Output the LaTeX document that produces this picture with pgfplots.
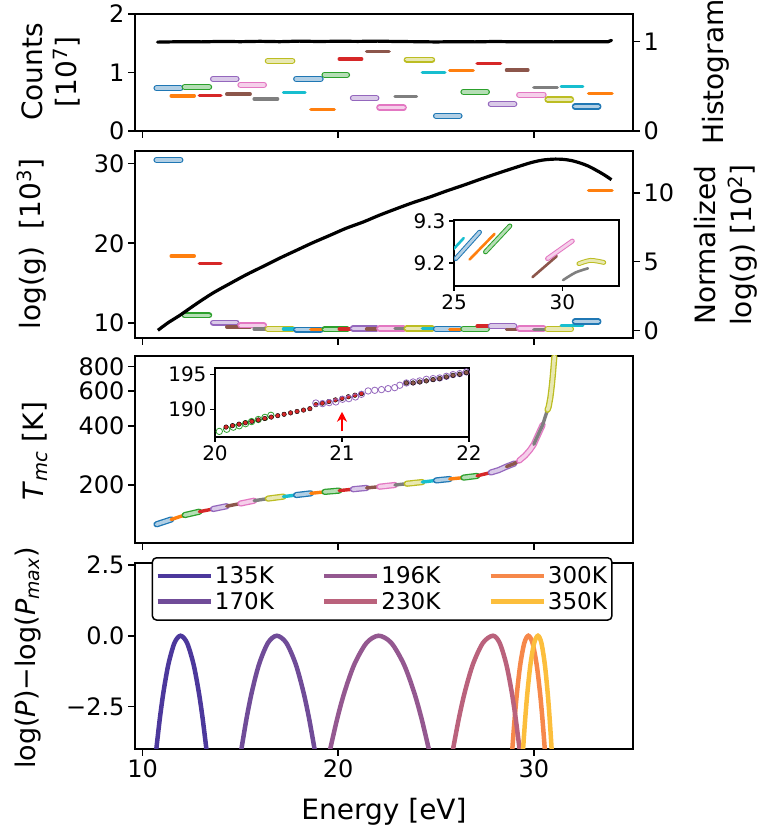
\documentclass[border=0pt]{standalone}
\usepackage{fontspec}
\setmainfont{DejaVu Sans}
\usepackage{pgfplots}
\usepackage{pgfplotstable}
\pgfplotsset{compat=1.18}
\usetikzlibrary{arrows.meta}
\definecolor{tA}{HTML}{1F77B4}
\definecolor{tB}{HTML}{FF7F0E}
\definecolor{tC}{HTML}{2CA02C}
\definecolor{tD}{HTML}{D62728}
\definecolor{tE}{HTML}{9467BD}
\definecolor{tF}{HTML}{8C564B}
\definecolor{tG}{HTML}{E377C2}
\definecolor{tH}{HTML}{7F7F7F}
\definecolor{tI}{HTML}{BCBD22}
\definecolor{tJ}{HTML}{17BECF}
\definecolor{c135}{RGB}{76,56,156}
\definecolor{c170}{RGB}{112,76,152}
\definecolor{c196}{RGB}{148,88,144}
\definecolor{c230}{RGB}{186,98,124}
\definecolor{c300}{RGB}{246,136,74}
\definecolor{c350}{RGB}{252,190,60}
\pgfplotsset{
  base/.style={scale only axis, width=498pt, xmin=9.61, xmax=35.07, xtick={10,20,30},
    anchor=south west, axis line style={line width=2pt,-}, tick style={line width=1.6pt, black},
    tick align=outside, major tick length=7pt, minor tick num=0,
    tick label style={font=\fontsize{24}{28}\selectfont},
    /pgf/number format/assume math mode=true, xtick pos=bottom, ytick pos=left},
  inset/.style={scale only axis, anchor=south west, axis background/.style={fill=white},
    axis line style={line width=1.8pt,-}, tick style={line width=1.4pt, black},
    tick align=outside, major tick length=5pt, minor tick num=0,
    tick label style={font=\fontsize{20}{24}\selectfont},
    /pgf/number format/assume math mode=true, xtick pos=bottom, ytick pos=left},
  tube/.style={draw=#1, line width=1.3pt, double=#1!35!white, double distance=3.6pt, line cap=round},
  tubes/.style={draw=#1, line width=1.0pt, double=#1!35!white, double distance=2.8pt, line cap=round},
  dline/.style={draw=#1, line width=3.4pt, line cap=round},
  dlines/.style={draw=#1, line width=2.6pt, line cap=round},
}
\pgfplotstableread{
E T
10.71 126.2
11.46 133.5
12.15 140.6
12.9 146.3
13.6 151
14.3 156
15.0 161
15.7 166.4
16.4 170.5
17.2 174.6
17.85 177.8
18.6 181.4
19.3 184.5
20.05 187.3
20.75 190.3
21.45 193.3
22.1 196
22.9 200
23.5 203
24.3 207
25.0 211
25.7 214.5
26.4 218
27.1 222.5
27.8 231.5
28.2 238
28.6 248
29.0 257
29.25 266
29.55 282
29.8 301
30.0 322
30.14 346
30.3 375
30.45 404
30.6 450
30.7 482
30.76 500
30.85 560
30.92 640
30.97 720
31.01 805
31.05 900
}\Tcurve
\begin{document}
\begin{tikzpicture}
\useasboundingbox (0pt,0pt) rectangle (761pt,835pt);
% ---------------- Panel 1 ----------------
\begin{axis}[base, at={(135pt,704pt)}, height=117pt, ymin=0, ymax=2, ytick={0,1,2}, xticklabels={}]
\addplot[tube=tA] coordinates {(10.71,0.73) (11.93,0.73)};
\addplot[dline=tB] coordinates {(11.46,0.60) (12.64,0.60)};
\addplot[tube=tC] coordinates {(12.15,0.75) (13.4,0.75)};
\addplot[dline=tD] coordinates {(12.9,0.61) (14.0,0.61)};
\addplot[tube=tE] coordinates {(13.6,0.89) (14.8,0.89)};
\addplot[dline=tF] coordinates {(14.3,0.63) (15.5,0.63)};
\addplot[tube=tG] coordinates {(15.0,0.79) (16.2,0.79)};
\addplot[dline=tH] coordinates {(15.7,0.55) (16.9,0.55)};
\addplot[tube=tI] coordinates {(16.4,1.20) (17.65,1.20)};
\addplot[dline=tJ] coordinates {(17.2,0.66) (18.3,0.66)};
\addplot[tube=tA] coordinates {(17.85,0.89) (19.1,0.89)};
\addplot[dline=tB] coordinates {(18.6,0.37) (19.8,0.37)};
\addplot[tube=tC] coordinates {(19.3,0.96) (20.45,0.96)};
\addplot[dline=tD] coordinates {(20.05,1.23) (21.2,1.23)};
\addplot[tube=tE] coordinates {(20.75,0.56) (21.95,0.56)};
\addplot[dline=tF] coordinates {(21.45,1.36) (22.6,1.36)};
\addplot[tube=tG] coordinates {(22.1,0.40) (23.35,0.40)};
\addplot[dline=tH] coordinates {(22.9,0.59) (24.0,0.59)};
\addplot[tube=tI] coordinates {(23.5,1.22) (24.8,1.22)};
\addplot[dline=tJ] coordinates {(24.3,1.00) (25.45,1.00)};
\addplot[tube=tA] coordinates {(25.0,0.26) (26.2,0.26)};
\addplot[dline=tB] coordinates {(25.7,1.03) (26.9,1.03)};
\addplot[tube=tC] coordinates {(26.4,0.67) (27.6,0.67)};
\addplot[dline=tD] coordinates {(27.1,1.15) (28.3,1.15)};
\addplot[tube=tE] coordinates {(27.8,0.46) (29.0,0.46)};
\addplot[dline=tF] coordinates {(28.6,1.04) (29.7,1.04)};
\addplot[tube=tG] coordinates {(29.25,0.62) (30.5,0.62)};
\addplot[dline=tH] coordinates {(30.0,0.74) (31.2,0.74)};
\addplot[tube=tI] coordinates {(30.7,0.54) (31.9,0.54)};
\addplot[dline=tJ] coordinates {(31.4,0.76) (32.5,0.76)};
\addplot[tube=tA] coordinates {(32.1,0.42) (33.3,0.42)};
\addplot[dline=tB] coordinates {(32.8,0.64) (34.0,0.64)};
\end{axis}
\begin{axis}[base, at={(135pt,704pt)}, height=117pt, ymin=0, ymax=1.31, ytick={0,1},
  axis x line=none, axis y line*=right, ytick pos=right]
\addplot[black, line width=3.2pt, line cap=round] coordinates {(10.76,0.995) (12,1.0) (13,0.998) (14,1.003) (15,1.0) (16,1.004) (17,1.0) (18,1.006) (19,1.002) (20,1.005) (21,1.003) (22,1.006) (23,1.002) (24,1.0) (25,0.997) (26,1.0) (27,0.998) (28,1.002) (29,0.999) (30,1.0) (31,0.998) (32,1.0) (33,0.999) (33.8,1.0) (33.97,1.015)};
\end{axis}
% ---------------- Panel 2 ----------------
\begin{axis}[base, at={(135pt,497pt)}, height=187pt, ymin=8.12, ymax=31.58, ytick={10,20,30}, xticklabels={}]
\addplot[tube=tA] coordinates {(10.71,30.45) (11.93,30.45)};
\addplot[dline=tB] coordinates {(11.46,18.4) (12.64,18.4)};
\addplot[tube=tC] coordinates {(12.15,10.96) (13.4,10.96)};
\addplot[dline=tD] coordinates {(12.9,17.45) (14.0,17.45)};
\addplot[tube=tE] coordinates {(13.6,10.05) (14.8,10.05)};
\addplot[dline=tF] coordinates {(14.3,9.5) (15.5,9.5)};
\addplot[tube=tG] coordinates {(15.0,9.7) (16.2,9.7)};
\addplot[dline=tH] coordinates {(15.7,9.25) (16.9,9.25)};
\addplot[tube=tI] coordinates {(16.4,9.25) (17.65,9.25)};
\addplot[dline=tJ] coordinates {(17.2,9.25) (18.3,9.25)};
\addplot[tube=tA] coordinates {(17.85,9.17) (19.1,9.17)};
\addplot[dline=tB] coordinates {(18.6,9.17) (19.8,9.17)};
\addplot[tube=tC] coordinates {(19.3,9.2) (20.45,9.2)};
\addplot[dline=tD] coordinates {(20.05,9.25) (21.2,9.25)};
\addplot[tube=tE] coordinates {(20.75,9.3) (21.95,9.3)};
\addplot[dline=tF] coordinates {(21.45,9.25) (22.6,9.25)};
\addplot[tube=tG] coordinates {(22.1,9.3) (23.35,9.3)};
\addplot[dline=tH] coordinates {(22.9,9.3) (24.0,9.3)};
\addplot[tube=tI] coordinates {(23.5,9.3) (24.8,9.3)};
\addplot[dline=tJ] coordinates {(24.3,9.3) (25.45,9.3)};
\addplot[tube=tA] coordinates {(25.0,9.25) (26.2,9.25)};
\addplot[dline=tB] coordinates {(25.7,9.22) (26.9,9.22)};
\addplot[tube=tC] coordinates {(26.4,9.27) (27.6,9.27)};
\addplot[dline=tD] coordinates {(27.1,9.6) (28.3,9.6)};
\addplot[tube=tE] coordinates {(27.8,9.6) (29.0,9.6)};
\addplot[dline=tF] coordinates {(28.6,9.22) (29.7,9.22)};
\addplot[tube=tG] coordinates {(29.25,9.3) (30.5,9.3)};
\addplot[dline=tH] coordinates {(30.0,9.2) (31.2,9.2)};
\addplot[tube=tI] coordinates {(30.7,9.22) (31.9,9.22)};
\addplot[dline=tJ] coordinates {(31.4,9.7) (32.5,9.7)};
\addplot[tube=tA] coordinates {(32.1,10.2) (33.3,10.2)};
\addplot[dline=tB] coordinates {(32.8,26.6) (34.0,26.6)};
\end{axis}
\begin{axis}[base, at={(135pt,497pt)}, height=187pt, ymin=-0.56, ymax=13.06, ytick={0,5,10},
  axis x line=none, axis y line*=right, ytick pos=right]
\addplot[black, line width=3.2pt, smooth] coordinates {(10.78,0.0) (11.3,0.55) (11.9,1.09) (12.76,1.94) (13.6,2.72) (14.46,3.4) (15.3,4.05) (16.17,4.66) (17.0,5.25) (17.87,5.83) (18.7,6.38) (19.58,6.92) (20.4,7.43) (21.28,7.89) (22.1,8.38) (22.98,8.86) (23.8,9.29) (24.69,9.71) (25.5,10.13) (26.39,10.56) (27.2,10.97) (28.1,11.41) (29.0,11.83) (29.8,12.19) (30.3,12.36) (30.64,12.43) (31.1,12.47) (31.5,12.45) (31.9,12.37) (32.36,12.19) (32.8,11.95) (33.2,11.65) (33.6,11.32) (33.97,10.97)};
\end{axis}
\begin{axis}[inset, at={(454pt,549pt)}, width=165pt, height=66pt, xmin=25, xmax=32.61, ymin=9.145, ymax=9.302,
  xtick={25,30}, ytick={9.2,9.3}, yticklabels={9.2,9.3}]
\addplot[dlines=tJ] coordinates {(24.3,9.195) (25.45,9.259)};
\addplot[tubes=tA] coordinates {(25.08,9.210) (26.18,9.273)};
\addplot[dlines=tB] coordinates {(25.72,9.208) (26.87,9.269)};
\addplot[tubes=tC] coordinates {(26.45,9.226) (27.58,9.288)};
\addplot[dlines=tF] coordinates {(28.62,9.166) (29.74,9.216)};
\addplot[tubes=tG] coordinates {(29.31,9.210) (30.46,9.252)};
\addplot[dlines=tH, smooth] coordinates {(30.03,9.159) (30.6,9.177) (31.18,9.187)};
\addplot[tubes=tI, smooth] coordinates {(30.76,9.198) (31.3,9.206) (31.91,9.201)};
\end{axis}
% ---------------- Panel 3 ----------------
\begin{axis}[base, at={(135pt,292pt)}, height=187pt, ymode=log, ymin=101.4, ymax=906,
  ytick={200,400,600,800}, yticklabels={200,400,600,800}, yminorticks=false, xticklabels={}]
\addplot[tube=tA, restrict x to domain=10.70:11.94] table[x=E,y=T]{\Tcurve};
\addplot[dline=tB, restrict x to domain=11.45:12.65] table[x=E,y=T]{\Tcurve};
\addplot[tube=tC, restrict x to domain=12.14:13.41] table[x=E,y=T]{\Tcurve};
\addplot[dline=tD, restrict x to domain=12.89:14.01] table[x=E,y=T]{\Tcurve};
\addplot[tube=tE, restrict x to domain=13.59:14.81] table[x=E,y=T]{\Tcurve};
\addplot[dline=tF, restrict x to domain=14.29:15.51] table[x=E,y=T]{\Tcurve};
\addplot[tube=tG, restrict x to domain=14.99:16.21] table[x=E,y=T]{\Tcurve};
\addplot[dline=tH, restrict x to domain=15.69:16.91] table[x=E,y=T]{\Tcurve};
\addplot[tube=tI, restrict x to domain=16.39:17.66] table[x=E,y=T]{\Tcurve};
\addplot[dline=tJ, restrict x to domain=17.19:18.31] table[x=E,y=T]{\Tcurve};
\addplot[tube=tA, restrict x to domain=17.84:19.11] table[x=E,y=T]{\Tcurve};
\addplot[dline=tB, restrict x to domain=18.59:19.81] table[x=E,y=T]{\Tcurve};
\addplot[tube=tC, restrict x to domain=19.29:20.46] table[x=E,y=T]{\Tcurve};
\addplot[dline=tD, restrict x to domain=20.04:21.21] table[x=E,y=T]{\Tcurve};
\addplot[tube=tE, restrict x to domain=20.74:21.96] table[x=E,y=T]{\Tcurve};
\addplot[dline=tF, restrict x to domain=21.44:22.61] table[x=E,y=T]{\Tcurve};
\addplot[tube=tG, restrict x to domain=22.09:23.36] table[x=E,y=T]{\Tcurve};
\addplot[dline=tH, restrict x to domain=22.89:24.01] table[x=E,y=T]{\Tcurve};
\addplot[tube=tI, restrict x to domain=23.49:24.81] table[x=E,y=T]{\Tcurve};
\addplot[dline=tJ, restrict x to domain=24.29:25.46] table[x=E,y=T]{\Tcurve};
\addplot[tube=tA, restrict x to domain=24.99:26.21] table[x=E,y=T]{\Tcurve};
\addplot[dline=tB, restrict x to domain=25.69:26.91] table[x=E,y=T]{\Tcurve};
\addplot[tube=tC, restrict x to domain=26.39:27.61] table[x=E,y=T]{\Tcurve};
\addplot[dline=tD, restrict x to domain=27.09:28.31] table[x=E,y=T]{\Tcurve};
\addplot[tube=tE, restrict x to domain=27.79:29.01] table[x=E,y=T]{\Tcurve};
\addplot[dline=tF, restrict x to domain=28.59:29.71] table[x=E,y=T]{\Tcurve};
\addplot[tube=tG, restrict x to domain=29.24:30.51] table[x=E,y=T]{\Tcurve};
\addplot[dline=tH, restrict x to domain=29.99:31.21] table[x=E,y=T]{\Tcurve};
\addplot[tube=tI, restrict x to domain=30.69:31.91] table[x=E,y=T]{\Tcurve};
\end{axis}
\begin{axis}[inset, at={(215pt,398pt)}, width=254pt, height=68.7pt, xmin=20, xmax=22, ymin=186.1, ymax=195.9,
  xtick={20,21,22}, ytick={190,195}]
\addplot[only marks, mark=o, mark size=3.2pt, mark options={draw=tC, line width=0.8pt}] coordinates {(19.93,186.4) (19.98,186.6) (20.034,186.9) (20.092,187.2) (20.144,187.5) (20.191,187.7) (20.241,188.0) (20.288,188.3) (20.341,188.6) (20.393,188.9) (20.44,189.2)};
\addplot[only marks, mark=*, mark size=2.3pt, mark options={draw=none, fill=tD}] coordinates {(20.087,187.52) (20.138,187.72) (20.189,187.93) (20.239,188.13) (20.290,188.33) (20.341,188.53) (20.392,188.74) (20.443,188.94) (20.494,189.14) (20.544,189.34) (20.595,189.54) (20.646,189.74) (20.697,189.94) (20.747,190.14) (20.794,190.71) (20.845,190.93) (20.897,191.16) (20.948,191.39) (21.0,191.61) (21.05,191.84) (21.102,192.06) (21.153,192.29)};
\addplot[only marks, mark=o, mark size=3.2pt, mark options={draw=tE, line width=0.8pt}] coordinates {(20.794,190.95) (20.847,190.86) (20.899,191.0) (20.952,191.1) (21.004,191.48) (21.054,191.57) (21.106,191.81) (21.153,192.19) (21.206,192.67) (21.258,192.76) (21.311,192.86) (21.363,193.0) (21.415,193.14) (21.455,193.48) (21.507,193.81) (21.56,193.95) (21.612,194.1) (21.664,194.33) (21.717,194.43) (21.769,194.52) (21.822,194.76) (21.874,195.0) (21.927,195.14) (21.979,195.38)};
\addplot[only marks, mark=*, mark size=2.3pt, mark options={draw=none, fill=tF}] coordinates {(21.507,193.81) (21.56,193.81) (21.612,193.95) (21.664,194.1) (21.717,194.29) (21.769,194.43) (21.822,194.67) (21.874,194.9) (21.927,195.05) (21.979,195.29) (22.03,195.5)};
\draw[red, line width=1.8pt, -{Stealth[length=10pt,width=10pt]}] (axis cs:21,186.9) -- (axis cs:21,189.7);
\end{axis}
% ---------------- Panel 4 ----------------
\begin{axis}[base, at={(135pt,86pt)}, height=186.3pt, ymin=-4.0, ymax=2.58,
  ytick={-2.5,0,2.5}, yticklabels={−2.5,0.0,2.5},
  legend columns=3,
  legend image code/.code={\draw[#1] (0pt,0pt) -- (53pt,0pt);},
  legend style={at={(0.0335,1.03)}, anchor=north west, draw=black, line width=1.5pt,
    rounded corners=4pt, fill=white, font=\fontsize{23}{26}\selectfont,
    inner xsep=3pt, inner ysep=7pt, row sep=3pt,
    /tikz/every even column/.append style={column sep=46pt}},
  legend cell align=left]
\addplot[c135, line width=4.5pt, smooth] coordinates {(10.663,-4.24) (10.70,-4.0) (10.886,-2.89) (11.072,-1.96) (11.32,-1.0) (11.63,-0.25) (11.94,0) (12.27,-0.25) (12.60,-1.0) (12.864,-1.96) (13.062,-2.89) (13.26,-4.0) (13.30,-4.24)};
\addlegendentry{135K}
\addplot[c196, line width=4.5pt, smooth] coordinates {(19.516,-4.24) (19.59,-4.0) (19.962,-2.89) (20.334,-1.96) (20.83,-1.0) (21.45,-0.25) (22.07,0) (22.71,-0.25) (23.35,-1.0) (23.862,-1.96) (24.246,-2.89) (24.63,-4.0) (24.707,-4.24)};
\addlegendentry{196K}
\addplot[c300, line width=4.5pt, smooth] coordinates {(28.875,-4.24) (28.90,-4.0) (29.023,-2.89) (29.146,-1.96) (29.31,-1.0) (29.515,-0.25) (29.72,0) (29.93,-0.25) (30.14,-1.0) (30.308,-1.96) (30.434,-2.89) (30.56,-4.0) (30.585,-4.24)};
\addlegendentry{300K}
\addplot[c170, line width=4.5pt, smooth] coordinates {(14.996,-4.24) (15.05,-4.0) (15.321,-2.89) (15.593,-1.96) (15.955,-1.0) (16.408,-0.25) (16.86,0) (17.343,-0.25) (17.825,-1.0) (18.211,-1.96) (18.501,-2.89) (18.79,-4.0) (18.848,-4.24)};
\addlegendentry{170K}
\addplot[c230, line width=4.5pt, smooth] coordinates {(25.809,-4.24) (25.87,-4.0) (26.176,-2.89) (26.482,-1.96) (26.89,-1.0) (27.40,-0.25) (27.91,0) (28.25,-0.25) (28.59,-1.0) (28.862,-1.96) (29.066,-2.89) (29.27,-4.0) (29.311,-4.24)};
\addlegendentry{230K}
\addplot[c350, line width=4.5pt, smooth] coordinates {(29.427,-4.24) (29.45,-4.0) (29.564,-2.89) (29.678,-1.96) (29.83,-1.0) (30.02,-0.25) (30.21,0) (30.385,-0.25) (30.56,-1.0) (30.70,-1.96) (30.805,-2.89) (30.91,-4.0) (30.931,-4.24)};
\addlegendentry{350K}
\end{axis}
% ---------------- Labels ----------------
\node[rotate=90, align=center, font=\fontsize{28}{34}\selectfont] at (51pt,763pt) {Counts\\{}[10\textsuperscript{7}]};
\node[rotate=90, font=\fontsize{28}{34}\selectfont] at (716pt,763pt) {Histogram};
\node[rotate=90, font=\fontsize{28}{34}\selectfont] at (32pt,591pt) {log(g)\ \ [10\textsuperscript{3}]};
\node[rotate=90, align=center, font=\fontsize{28}{36}\selectfont] at (726pt,590pt) {Normalized\\log(g) [10\textsuperscript{2}]};
\node[rotate=90, font=\fontsize{28}{34}\selectfont] at (35pt,384pt) {\textit{T}\textsubscript{\textit{mc}} [K]};
\node[rotate=90, font=\fontsize{27}{34}\selectfont] at (28pt,177pt) {log(\textit{P})−log(\textit{P}\textsubscript{\textit{max}})};
\node[font=\fontsize{28}{34}\selectfont] at (384pt,23pt) {Energy [eV]};
\end{tikzpicture}
\end{document}
